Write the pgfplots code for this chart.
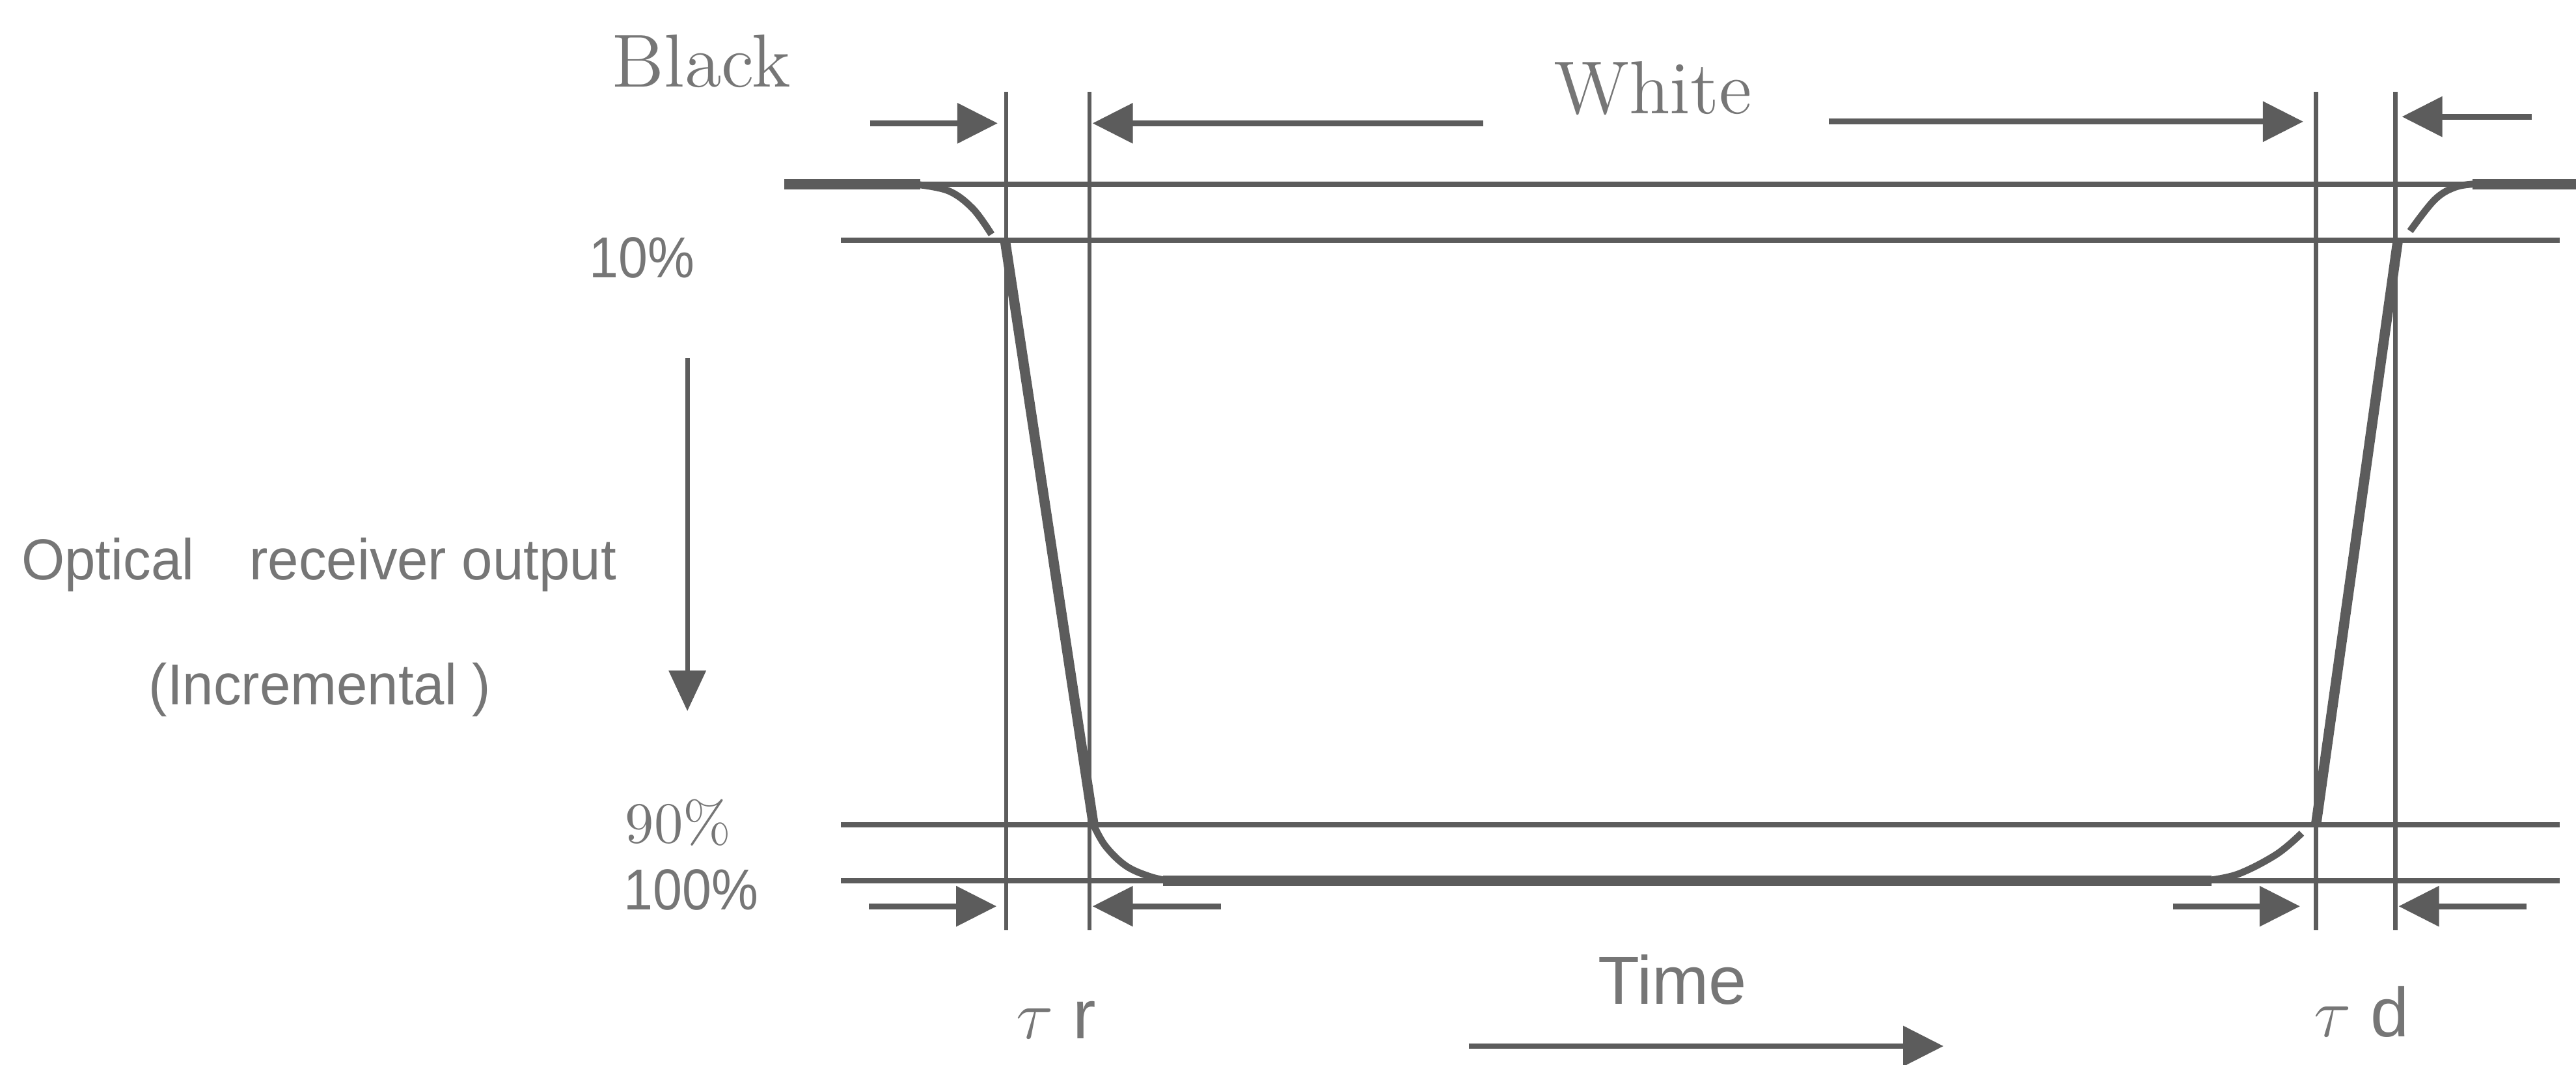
\documentclass[border=0pt]{standalone}
\usepackage{fontspec}
\usepackage{pgfplots}
\pgfplotsset{compat=1.18}
\usetikzlibrary{arrows.meta}

\newfontfamily\arial{Liberation Sans}
\newfontfamily\arialn[FakeStretch=0.96]{Liberation Sans}
\newfontfamily\arialnn[FakeStretch=0.91]{Liberation Sans}
\definecolor{ink}{RGB}{92,92,92}
\definecolor{txt}{RGB}{118,118,118}

\tikzset{
  lvl/.style={ink, line width=0.9pt},
  vmark/.style={ink, line width=0.7pt},
  wave/.style={ink, line width=1.75pt},
  knee/.style={ink, line width=1.2pt, smooth, tension=0.6},
  arr/.style={ink, line width=1pt, -{Triangle[length=7pt,width=6.8pt]}},
  lbl/.style={txt, anchor=base west, inner sep=0pt},
}

\begin{document}
\begin{tikzpicture}
\begin{axis}[hide axis, scale only axis,
  width=15.68cm, height=6.48cm,
  xmin=0, xmax=1568, ymin=0, ymax=648, y dir=reverse, clip=false]
% frame for the bounding box
\addplot[draw=none] coordinates {(0,0) (1568,648)};

% level lines: 0%, 10%, 90%, 100%
\addplot[lvl] coordinates {(478,112) (1568,112)};
\addplot[lvl] coordinates {(512,146) (1558,146)};
\addplot[lvl] coordinates {(512,502) (1558,502)};
\addplot[lvl] coordinates {(512,536) (1558,536)};

% time markers
\addplot[vmark] coordinates {(612.5,56) (612.5,566)};
\addplot[vmark] coordinates {(663.3,56) (663.3,566)};
\addplot[vmark] coordinates {(1409.7,56) (1409.7,566)};
\addplot[vmark] coordinates {(1458,56) (1458,566)};

% optical response
\addplot[wave] coordinates {(477.5,112) (560,112)};
\addplot[knee] coordinates {(556,112) (577,116) (592,126.8) (603.5,142.6)};
\addplot[wave] coordinates {(611.7,146) (665.6,502)};
\addplot[knee] coordinates {(665.6,502) (673,515) (685.5,527) (700.5,533.6) (712,536)};
\addplot[wave] coordinates {(708,536) (1346,536)};
\addplot[knee] coordinates {(1342,536) (1362,532) (1385.5,520) (1401,507)};
\addplot[wave] coordinates {(1409.7,502) (1459.6,146)};
\addplot[knee] coordinates {(1467,140.6) (1482,121.5) (1495,113.7) (1509,111.8)};
\addplot[wave] coordinates {(1505,112) (1568,112)};

% arrows, top row
\addplot[arr] coordinates {(529.5,75) (607.3,75)};
\addplot[arr] coordinates {(903,75) (665,75)};
\addplot[arr] coordinates {(1113,74) (1402,74)};
\addplot[arr] coordinates {(1541,71) (1462,71)};
% arrows, bottom row
\addplot[arr] coordinates {(529,551.5) (606.6,551.5)};
\addplot[arr] coordinates {(743,551.5) (665,551.5)};
\addplot[arr] coordinates {(1322.6,551.5) (1400,551.5)};
\addplot[arr] coordinates {(1538,551.5) (1460,551.5)};
% time and output direction
\addplot[arr] coordinates {(894,636.6) (1183,636.6)};
\addplot[ink, line width=0.8pt, -{Triangle[length=7pt,width=6.3pt]}]
  coordinates {(418.4,218) (418.4,432.7)};

% labels
\node[lbl, font=\fontsize{13}{15}\selectfont] at (372,53) {Black};
\node[lbl, font=\fontsize{13}{15}\selectfont] at (945,69.3) {White};
\node[lbl, font=\arialnn\fontsize{10}{12}\selectfont] at (358,169) {10\%};
\node[lbl, font=\fontsize{10}{12}\selectfont] at (380,513) {90\%};
\node[lbl, font=\arialnn\fontsize{10}{12}\selectfont] at (379,553.5) {100\%};
\node[lbl, font=\arialn\fontsize{10}{12}\selectfont] at (12.5,352.6)
  {Optical\hspace{9.6pt}receiver output};
\node[lbl, font=\arialn\fontsize{10}{12}\selectfont] at (90,428.7)
  {(Incremental )};
\node[lbl, font=\arial\fontsize{11.8}{14}\selectfont] at (972,611) {Time};
\node[lbl, font=\arial\fontsize{12}{14}\selectfont] at (618,632) {$\tau$ r};
\node[lbl, font=\arial\fontsize{12}{14}\selectfont] at (1408,631) {$\tau$ d};
\end{axis}
\pgfresetboundingbox
\useasboundingbox (current axis.south west) rectangle (current axis.north east);
\end{tikzpicture}
\end{document}
